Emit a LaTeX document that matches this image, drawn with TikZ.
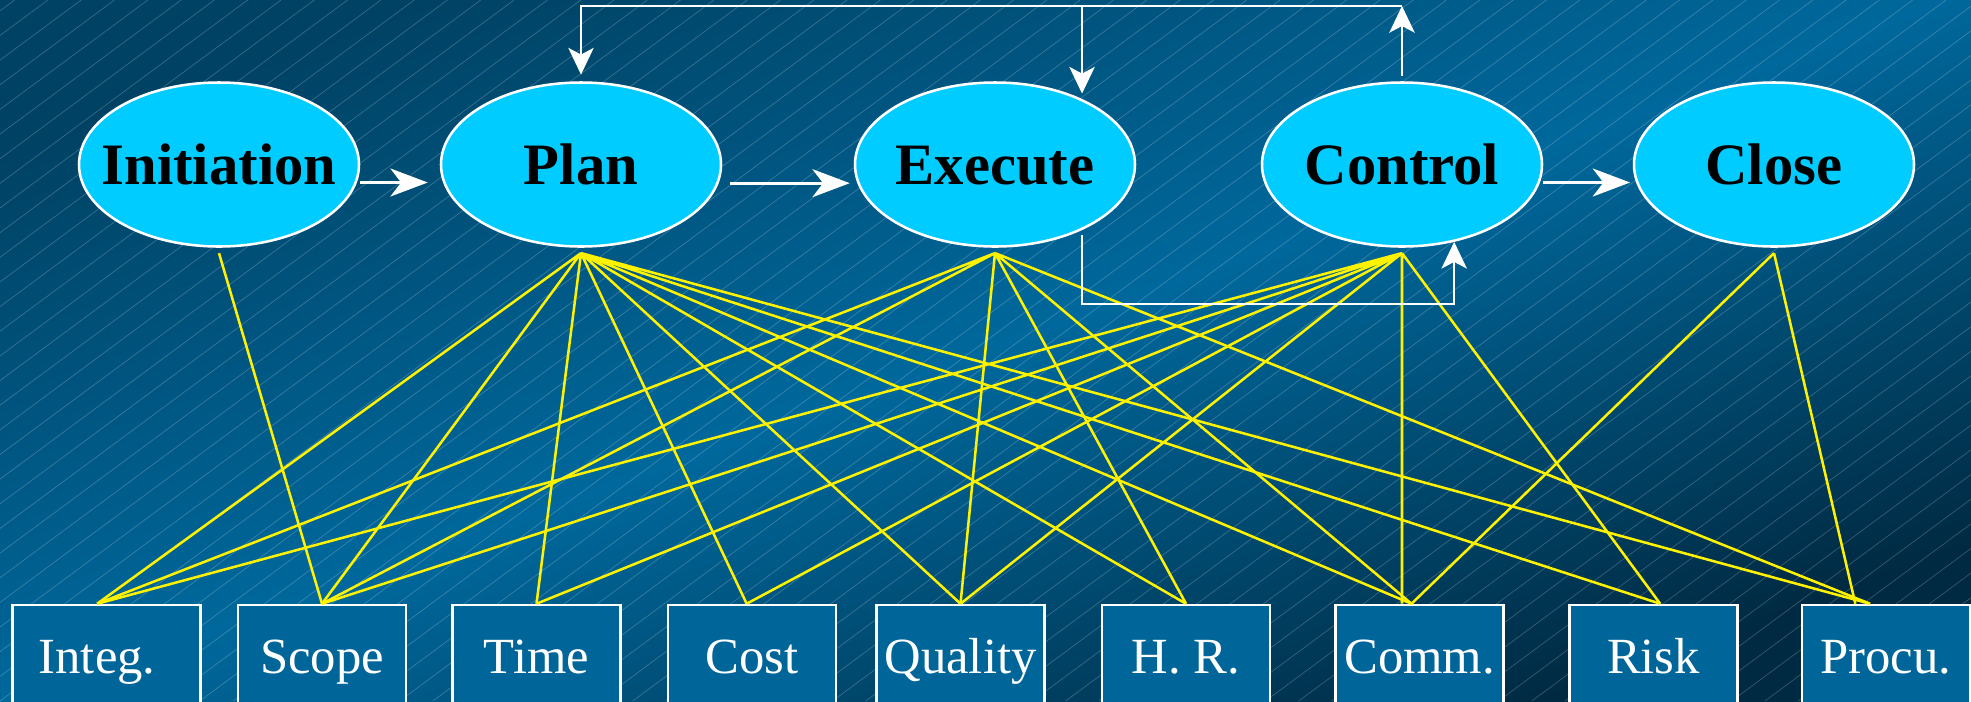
\documentclass[tikz,border=0pt]{standalone}
\usepackage{fontspec}
\setmainfont{Liberation Serif}
\usetikzlibrary{shapes.geometric,arrows.meta}

\definecolor{bgTop}{RGB}{0,66,100}
\definecolor{bgMid}{RGB}{0,104,156}
\definecolor{bgBot}{RGB}{0,42,66}
\definecolor{phaseFill}{RGB}{0,204,255}
\definecolor{areaFill}{RGB}{0,102,153}

\tikzset{
	phase/.style={ellipse, draw=white, line width=1.9pt, fill=phaseFill, inner sep=0pt,
		minimum width=210pt, minimum height=123pt, text height=30pt, text depth=0pt,
		font=\fontsize{44}{44}\selectfont\bfseries,
		execute at begin node={\hbox to 0pt\bgroup\hss}, execute at end node={\hss\egroup}},
	area/.style={rectangle, draw=white, line width=1.9pt, fill=areaFill, inner sep=0pt,
		minimum width=126pt, minimum height=78pt, text height=25pt, text depth=0pt,
		text=white, font=\fontsize{38}{38}\selectfont},
	link/.style={draw=yellow, line width=1.9pt},
	hflow/.style={draw=white, line width=2pt, -{Stealth[length=28pt, width=21pt, inset=8pt]}},
	vflow/.style={draw=white, line width=1.8pt, -{Stealth[length=20pt, width=19pt, inset=5pt]}},
	hatch/.style={white, opacity=0.22, line width=0.5pt}
}

\begin{document}
\begin{tikzpicture}[x=0.75pt,y=0.75pt,yscale=-1,xscale=1]
	\useasboundingbox (0,0) rectangle (1971,701);
	%Background
	\shade[top color=bgTop, bottom color=bgBot, middle color=bgMid, shading angle=20] (0,0) rectangle (1971,701);
	\begin{scope}
		\clip (0,0) rectangle (1971,701);
		\foreach \i in {-29,...,60}
			\draw[hatch] ({\i*33.3},701) -- ++(947,-701);
	\end{scope}

	%Phases
	\node[phase] (init) at (219,164.5) {Initiation};
	\node[phase] (plan) at (581,164.5) {Plan};
	\node[phase] (exec) at (995,164.5) {Execute};
	\node[phase] (ctrl) at (1402,164.5) {Control};
	\node[phase] (close) at (1774,164.5) {Close};

	%Knowledge areas
	\node[area, minimum width=141pt] (integ) at (106.5,657) {Integ.\hspace*{14pt}};
	\node[area] (scope) at (322,657) {Scope};
	\node[area] (time) at (536.5,657) {Time};
	\node[area] (cost) at (752,657) {Cost};
	\node[area] (qual) at (960.5,657) {Quality};
	\node[area] (hr) at (1186,657) {H. R.};
	\node[area] (comm) at (1419.5,657) {Comm.};
	\node[area] (risk) at (1653.5,657) {Risk};
	\node[area] (procu) at (1886,657) {Procu.};

	%Tie points
	\coordinate (init-b) at ([yshift=4pt]init.south);
	\coordinate (plan-b) at ([yshift=4pt]plan.south);
	\coordinate (exec-b) at ([yshift=4pt]exec.south);
	\coordinate (ctrl-b) at ([yshift=4pt]ctrl.south);
	\coordinate (close-b) at ([yshift=4pt]close.south);
	\coordinate (integ-t) at ([xshift=-7pt]integ.north);
	\coordinate (cost-t) at ([xshift=-4pt]cost.north);
	\coordinate (comm-t) at ([xshift=-6pt]comm.north);
	\coordinate (risk-t) at ([xshift=5pt]risk.north);
	\coordinate (procu-t) at ([xshift=-12pt]procu.north);

	%Links
	\draw[link] (init-b) -- (scope.north);
	\draw[link] (plan-b) -- (integ-t) (plan-b) -- (scope.north) (plan-b) -- (time.north) (plan-b) -- (cost-t) (plan-b) -- (qual.north) (plan-b) -- (hr.north) (plan-b) -- (comm-t) (plan-b) -- (risk-t) (plan-b) -- (procu-t);
	\draw[link] (exec-b) -- (integ-t) (exec-b) -- (scope.north) (exec-b) -- (qual.north) (exec-b) -- (hr.north) (exec-b) -- (comm-t) (exec-b) -- (procu-t);
	\draw[link] (ctrl-b) -- (integ-t) (ctrl-b) -- (scope.north) (ctrl-b) -- (time.north) (ctrl-b) -- (cost-t) (ctrl-b) -- (qual.north) (ctrl-b) -- (ctrl-b |- comm.north) (ctrl-b) -- (risk-t);
	\draw[link] (close-b) -- (comm-t) (close-b) -- ([xshift=-11pt]procu-t);

	%Flow
	\draw[hflow] ([yshift=13.5pt]init.east) -- ([yshift=13.5pt,xshift=-9pt]plan.west);
	\draw[hflow] ([yshift=14pt,xshift=6pt]plan.east) -- ([yshift=14pt,xshift=-3pt]exec.west);
	\draw[hflow] ([yshift=13.5pt]ctrl.east) -- ([yshift=13.5pt,xshift=-2pt]close.west);

	%Feedback
	\coordinate (fb) at (ctrl.north |- 0,6);
	\coordinate (exec-in) at ([yshift=-4pt]exec.37.5);
	\coordinate (exec-out) at ([yshift=3.5pt]exec.-37.5);
	\draw[vflow] ([yshift=-4pt]ctrl.north) -- (fb);
	\draw[vflow] (fb) -| ([yshift=-5pt]plan.north);
	\draw[vflow] (exec-in |- fb) -- (exec-in);
	\draw[vflow] (exec-out) -- (exec-out |- 0,304) -| (ctrl.-56);

\end{tikzpicture}
\end{document}
